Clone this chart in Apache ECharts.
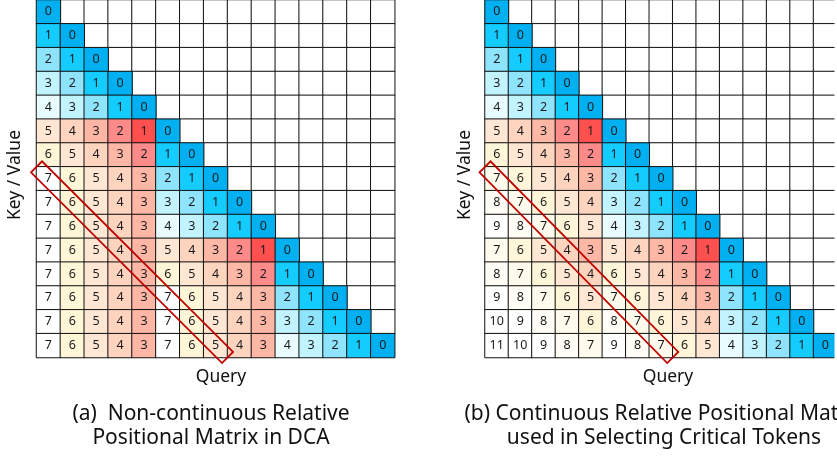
<!DOCTYPE html>
<html>
<head>
<meta charset="utf-8">
<script src="https://cdn.jsdelivr.net/npm/echarts@6/dist/echarts.min.js"></script>
<style>
html,body{margin:0;padding:0;background:#fff;}
#c{width:837px;height:459px;}
</style>
</head>
<body>
<div id="c"></div>
<script>
// ---- data ----
var positions = [0,1,2,3,4,5,6,7,8,9,10,11,12,13,14];

// (a) Non-continuous relative positional matrix in DCA (row = key/value, col = query)
var dcaMatrix = [
  [0],
  [1,0],
  [2,1,0],
  [3,2,1,0],
  [4,3,2,1,0],
  [5,4,3,2,1,0],
  [6,5,4,3,2,1,0],
  [7,6,5,4,3,2,1,0],
  [7,6,5,4,3,3,2,1,0],
  [7,6,5,4,3,4,3,2,1,0],
  [7,6,5,4,3,5,4,3,2,1,0],
  [7,6,5,4,3,6,5,4,3,2,1,0],
  [7,6,5,4,3,7,6,5,4,3,2,1,0],
  [7,6,5,4,3,7,6,5,4,3,3,2,1,0],
  [7,6,5,4,3,7,6,5,4,3,4,3,2,1,0]
];

// (b) Continuous relative positional matrix used in selecting critical tokens
var continuousMatrix = [
  [0],
  [1,0],
  [2,1,0],
  [3,2,1,0],
  [4,3,2,1,0],
  [5,4,3,2,1,0],
  [6,5,4,3,2,1,0],
  [7,6,5,4,3,2,1,0],
  [8,7,6,5,4,3,2,1,0],
  [9,8,7,6,5,4,3,2,1,0],
  [7,6,5,4,3,5,4,3,2,1,0],
  [8,7,6,5,4,6,5,4,3,2,1,0],
  [9,8,7,6,5,7,6,5,4,3,2,1,0],
  [10,9,8,7,6,8,7,6,5,4,3,2,1,0],
  [11,10,9,8,7,9,8,7,6,5,4,3,2,1,0]
];

var chunkSize = 5;
// highlighted diagonal: [startCol, startRow, endCol, endRow]
var highlightCells = [0, 7, 7, 14];

var titlesA = ['(a)  Non-continuous Relative', 'Positional Matrix in DCA'];
var titlesB = ['(b) Continuous Relative Positional Matrix', 'used in Selecting Critical Tokens'];
var xName = 'Query';
var yName = 'Key / Value';

// ---- styles ----
var FONT = '"Noto Sans", "Open Sans", sans-serif';
var bluePalette = ['#00B0F0', '#14CCFF', '#8EE4FC', '#C1F4FE', '#E8FCFF'];
var warmA = {1:'#FF5050', 2:'#FF8A8A', 3:'#FFB7A5', 4:'#FFD4BF', 5:'#FFE7D4', 6:'#FFF6D8', 7:'#FFFFFF'};
var warmB = {1:'#FF5050', 2:'#FF8A8A', 3:'#FFB7A5', 4:'#FFD4BF', 5:'#FFE7D4', 6:'#FFF5D8', 7:'#FFFBEC', 8:'#FFFDF6', 9:'#FFFFFF', 10:'#FFFFFF', 11:'#FFFFFF'};

function cellColor(row, col, v, warm) {
  if (Math.floor(row / chunkSize) === Math.floor(col / chunkSize)) return bluePalette[v] || '#FFFFFF';
  return warm[v] || '#FFFFFF';
}

function buildCells(matrix, warm) {
  var filled = [], empty = [];
  for (var r = 0; r < positions.length; r++) {
    for (var c = 0; c < positions.length; c++) {
      if (c < matrix[r].length) {
        var v = matrix[r][c];
        filled.push({ value: [c, r, v], itemStyle: { color: cellColor(r, c, v, warm) } });
      } else {
        empty.push([c, r, 0]);
      }
    }
  }
  return { filled: filled, empty: empty };
}

var cellsA = buildCells(dcaMatrix, warmA);
var cellsB = buildCells(continuousMatrix, warmB);

var GRID_TOP = -0.7, CELL = 23.88, N = positions.length;
var grids = [
  { left: 36.5, top: GRID_TOP, width: CELL * N, height: CELL * N },
  { left: 485, top: GRID_TOP, width: CELL * N, height: CELL * N }
];

function axisX(i) {
  return { type: 'category', gridIndex: i, data: positions, show: false, boundaryGap: true };
}
function axisY(i) {
  return { type: 'category', gridIndex: i, data: positions, show: false, inverse: true, boundaryGap: true };
}

var borderStyle = { borderColor: '#111', borderWidth: 1 };

function heat(i, data, withLabel) {
  return {
    type: 'heatmap', xAxisIndex: i, yAxisIndex: i, data: data,
    itemStyle: withLabel ? borderStyle : { color: '#FFFFFF', borderColor: '#111', borderWidth: 1 },
    label: {
      show: withLabel, color: '#1a1a1a', fontSize: 12.5, fontFamily: FONT,
      formatter: function (p) { return String(p.value[2]); }
    },
    emphasis: { disabled: true }, silent: true, animation: false
  };
}

function highlightBox(i) {
  return {
    type: 'custom', xAxisIndex: i, yAxisIndex: i, clip: false, silent: true, z: 10,
    data: [highlightCells],
    renderItem: function (params, api) {
      var a = api.coord([api.value(0), api.value(1)]);
      var b = api.coord([api.value(2), api.value(3)]);
      var s = api.size([1, 1]);
      var A = [a[0] - s[0] / 2, a[1] - s[1] / 2];
      var B = [b[0] + s[0] / 2, b[1] + s[1] / 2];
      var h = 7.8 / Math.SQRT2;
      return {
        type: 'polygon',
        shape: { points: [[A[0] - h, A[1] + h], [A[0] + h, A[1] - h], [B[0] + h, B[1] - h], [B[0] - h, B[1] + h]] },
        style: { fill: 'none', stroke: '#C00000', lineWidth: 1.8 }
      };
    }
  };
}

function txt(x, y, t, size, rot) {
  return {
    type: 'text', x: x, y: y, rotation: rot || 0, z: 100,
    style: { text: t, fill: '#111', font: size + 'px ' + FONT, align: 'center', verticalAlign: 'middle' }
  };
}

var chart = echarts.init(document.getElementById('c'), null, { renderer: 'canvas' });
chart.setOption({
  backgroundColor: '#ffffff',
  animation: false,
  grid: grids,
  xAxis: [axisX(0), axisX(1)],
  yAxis: [axisY(0), axisY(1)],
  series: [
    heat(0, cellsA.empty, false), heat(0, cellsA.filled, true), highlightBox(0),
    heat(1, cellsB.empty, false), heat(1, cellsB.filled, true), highlightBox(1)
  ],
  graphic: [
    { type: 'rect', shape: { x: 834.5, y: 0, width: 10, height: 365 }, style: { fill: '#fff' }, z: 90 },
    txt(221, 377, xName, 17.5),
    txt(668, 377, xName, 17.5),
    txt(15.5, 175, yName, 17.5, Math.PI / 2),
    txt(465, 175, yName, 17.5, Math.PI / 2),
    txt(211, 414, titlesA[0], 21),
    txt(211, 438, titlesA[1], 21),
    txt(664, 414, titlesB[0], 21),
    txt(664, 438, titlesB[1], 21)
  ]
});
</script>
</body>
</html>
